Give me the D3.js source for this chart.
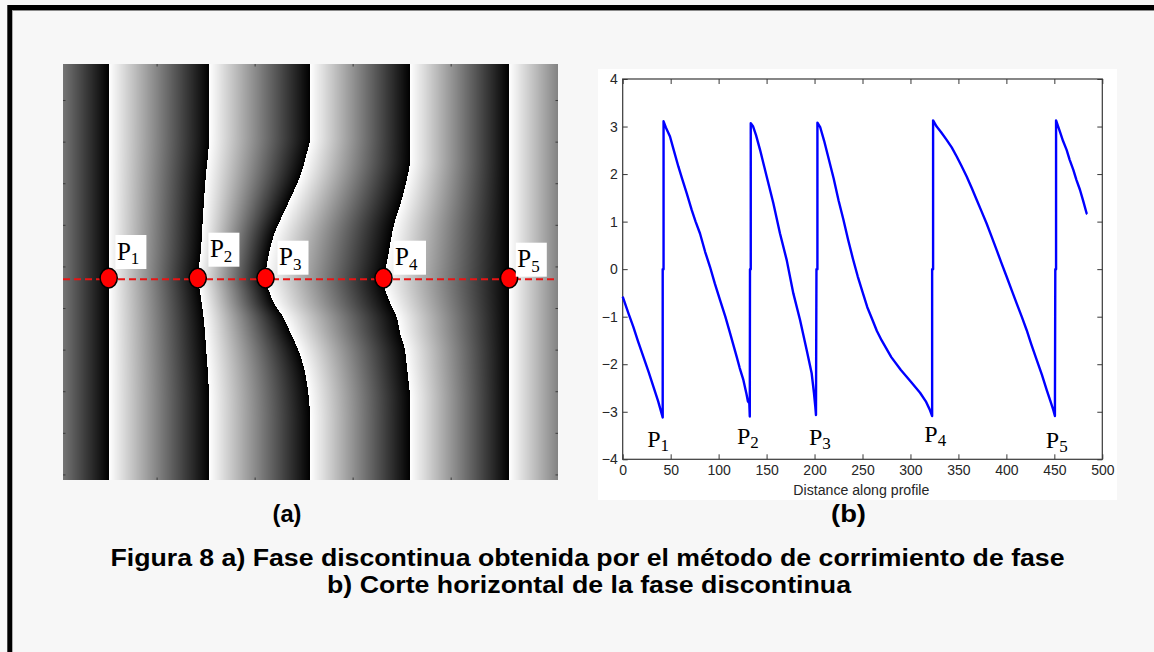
<!DOCTYPE html>
<html>
<head>
<meta charset="utf-8">
<script src="https://cdn.jsdelivr.net/npm/d3@7"></script>
<style>
  html, body { margin: 0; padding: 0; background: #f7f7f7; }
  svg { display: block; }
</style>
</head>
<body>
<svg id="fig" width="1154" height="652"></svg>
<script>
// ---------------------------------------------------------------
// Horizontal cut through the wrapped phase: [distance, phase (rad)]
// ---------------------------------------------------------------
const fringe0 = [[0,-0.58],[6,-0.93],[11,-1.21],[16,-1.52],[21.5,-1.84],[27,-2.16],[32,-2.47],[37,-2.78],[41.7,-3.12]];
const fringe1 = [[41.7,0],[42.6,0],[42.6,3.11],[45,2.98],[49.3,2.79],[53,2.52],[58,2.16],[62,1.9],[66.7,1.6],[72,1.24],[76,1.0],[80.6,0.75],[86,0.36],[91,0.05],[96,-0.3],[101.5,-0.65],[107,-1.0],[112,-1.35],[118.8,-1.84],[122,-2.08],[125.8,-2.33],[129,-2.62],[130.5,-2.78],[132,-2.82],[132.5,-3.1]];
const fringe2 = [[132.7,0],[133.5,0],[133.5,3.07],[136,3.0],[139,2.82],[143.2,2.51],[150.1,1.95],[157,1.39],[164,0.75],[171,0.19],[177.9,-0.51],[184.9,-1.07],[191.8,-1.7],[197,-2.19],[199.4,-2.61],[200.8,-2.89],[201.5,-3.07]];
const fringe3 = [[202,0],[203,0],[203,3.08],[206,2.98],[210,2.7],[215,2.3],[220,1.9],[225,1.45],[230,1.05],[235,0.62],[240,0.22],[245,-0.15],[250,-0.48],[255,-0.8],[260,-1.05],[265,-1.3],[270,-1.5],[280,-1.85],[290,-2.12],[300,-2.36],[310,-2.6],[316,-2.78],[320,-2.95],[322.6,-3.09]];
const fringe4 = [[322.6,0],[323.6,0],[323.6,3.13],[327.3,3.0],[332,2.88],[337.7,2.72],[343,2.56],[348.2,2.37],[353,2.18],[358.6,1.95],[364,1.7],[369,1.46],[374,1.22],[379.4,0.96],[384.5,0.69],[389.9,0.4],[395,0.12],[400.3,-0.16],[405.5,-0.44],[410.7,-0.72],[416,-1.0],[421.1,-1.28],[426,-1.58],[431.6,-1.91],[437,-2.22],[442,-2.54],[446,-2.78],[448.9,-2.96],[450.6,-3.09]];
const fringe5 = [[451,0],[451.8,0],[451.8,3.13],[455.9,2.89],[459,2.7],[462.8,2.51],[466,2.3],[469.8,2.09],[473,1.88],[476.7,1.67],[480,1.44],[483.7,1.17],[484.4,1.16]];

// Phase jumps (-pi -> +pi) along the cut, and their names P1..P5
const jumps = [41.7, 132.7, 202, 322.6, 451];
const jumpIndex = ["1", "2", "3", "4", "5"];

// Axis ticks of the profile plot
const xTicks = [0, 50, 100, 150, 200, 250, 300, 350, 400, 450, 500];
const yTicks = [-4, -3, -2, -1, 0, 1, 2, 3, 4];

// Wrapped-phase map: each discontinuity line as [row, column],
// columns share the distance units of the cut.
const edge1 = [[0,42],[416,42]];
const edge2 = [[0,144.5],[70,144.4],[119,140.4],[153,138],[186,136],[215.3,133],[229,135.2],[253,138.6],[286,141.4],[319,143.7],[340,144.5],[416,144.5]];
const edge3 = [[0,247.7],[72,247.7],[92,243.5],[112,237.5],[130,229.5],[150,220],[170,211],[190,205.5],[215.3,202],[228,206],[240,211],[253,220],[269,227.5],[286,235.5],[303,241],[320,244.5],[340,246.8],[358,247.7],[416,247.7]];
const edge4 = [[0,349.9],[95,349.9],[115,346.5],[138,340.5],[160,333.5],[180,329.5],[200,325.8],[215.3,322.6],[239,329.4],[253,336],[269,339.6],[286,344.5],[303,346.5],[320,348.5],[336,349.9],[416,349.9]];
const edge5 = [[0,451],[416,451]];
const cutRow = 215.3;

// Image axis ticks (pixel coordinates of the phase map)
const imgColTicks = [100, 200, 300, 400];
const imgRowTicks = [50, 100, 150, 200, 250, 300, 350, 400, 450, 500];

// Caption texts
const panelNames = ["(a)", "(b)"];
const captionLines = [
  "Figura 8 a) Fase discontinua obtenida por el método de corrimiento de fase",
  "b) Corte horizontal de la fase discontinua"
];
const xLabel = "Distance along profile";

// ---------------------------------------------------------------
const W = 1154, H = 652;
const svg = d3.select("#fig");

svg.append("rect").attr("width", W).attr("height", H).attr("fill", "#f7f7f7");

// Slide frame (only top and left edges are inside the page)
svg.append("path")
  .attr("d", `M9.8,${H + 10} V7.5 H${W + 10}`)
  .attr("fill", "none").attr("stroke", "#000").attr("stroke-width", 5);
svg.append("line")
  .attr("x1", 12.3).attr("x2", W).attr("y1", 10.5).attr("y2", 10.5)
  .attr("stroke", "#8a8a8a").attr("stroke-width", 1);

// ======================= Panel (a): phase map =======================
const imgLeft = 63, imgTop = 64, imgW = 495, imgH = 416;
const imgX = d3.scaleLinear().domain([-5, 501]).range([imgLeft, imgLeft + imgW]);
const imgY = d3.scaleLinear().domain([0, 416]).range([imgTop, imgTop + imgH]);

// Screen x of each discontinuity line, row by row
const tmp = svg.append("g").attr("opacity", 0);
const edgeLine = d3.line().x(d => imgX(d[1])).y(d => imgY(d[0])).curve(d3.curveMonotoneY);
const edgeRows = [edge1, edge2, edge3, edge4, edge5].map(pts => {
  const node = tmp.append("path").attr("d", edgeLine(pts)).node();
  const L = node.getTotalLength();
  const sum = new Float64Array(imgH), cnt = new Float64Array(imgH);
  for (let s = 0; s <= L; s += 0.2) {
    const p = node.getPointAtLength(s);
    const r = Math.floor(p.y - imgTop);
    if (r >= 0 && r < imgH) { sum[r] += p.x; cnt[r]++; }
  }
  const out = new Float64Array(imgH);
  let last = imgX(pts[0][1]);
  for (let r = 0; r < imgH; r++) {
    if (cnt[r]) { out[r] = sum[r] / cnt[r]; last = out[r]; } else out[r] = last;
  }
  return out;
});
tmp.remove();

// Fringe spacing away from the deformation, used beyond the outer edges
const spacing = (edgeRows[4][0] - edgeRows[0][0]) / 4;

const canvas = document.createElement("canvas");
canvas.width = imgW; canvas.height = imgH;
const ctx = canvas.getContext("2d");
const pix = ctx.createImageData(imgW, imgH);
for (let r = 0; r < imgH; r++) {
  const b = edgeRows.map(e => e[r]);
  const B = [b[0] - spacing, ...b, b[4] + spacing];
  let k = 0;
  for (let i = 0; i < imgW; i++) {
    const x = imgLeft + i + 0.5;
    while (k < B.length - 2 && x >= B[k + 1]) k++;
    let g = (x - B[k]) / (B[k + 1] - B[k]);
    g = Math.max(0, Math.min(1, g));
    const v = Math.round(255 * (1 - g));
    const o = (r * imgW + i) * 4;
    pix.data[o] = v; pix.data[o + 1] = v; pix.data[o + 2] = v; pix.data[o + 3] = 255;
  }
}
ctx.putImageData(pix, 0, 0);

svg.append("image")
  .attr("x", imgLeft).attr("y", imgTop)
  .attr("width", imgW).attr("height", imgH)
  .attr("preserveAspectRatio", "none")
  .attr("href", canvas.toDataURL());

// Small inward ticks around the map
const pxX = d3.scaleLinear().domain([4.5, 509.5]).range([imgLeft, imgLeft + imgW]);
const pxY = d3.scaleLinear().domain([6.7, 506.7]).range([imgTop, imgTop + imgH]);
const tickStyle = g => {
  g.select(".domain").remove();
  g.selectAll(".tick line").attr("stroke", "#3c3c3c").attr("stroke-width", 1);
  g.selectAll(".tick text").remove();
};
svg.append("g").attr("transform", `translate(0,${imgTop})`)
  .call(d3.axisTop(pxX).tickValues(imgColTicks).tickSize(-2.5)).call(tickStyle);
svg.append("g").attr("transform", `translate(0,${imgTop + imgH})`)
  .call(d3.axisBottom(pxX).tickValues(imgColTicks).tickSize(-2.5)).call(tickStyle);
svg.append("g").attr("transform", `translate(${imgLeft},0)`)
  .call(d3.axisLeft(pxY).tickValues(imgRowTicks).tickSize(-2.5)).call(tickStyle);
svg.append("g").attr("transform", `translate(${imgLeft + imgW},0)`)
  .call(d3.axisRight(pxY).tickValues(imgRowTicks).tickSize(-2.5)).call(tickStyle);

// Horizontal cut
const cutY = imgY(cutRow);
svg.append("line")
  .attr("x1", imgLeft).attr("x2", imgLeft + imgW)
  .attr("y1", cutY).attr("y2", cutY)
  .attr("stroke", "#e81414").attr("stroke-width", 2)
  .attr("stroke-dasharray", "7,4");

// Points where the cut crosses each discontinuity
svg.append("g").selectAll("ellipse").data(jumps).join("ellipse")
  .attr("cx", d => imgX(d)).attr("cy", cutY - 1.2)
  .attr("rx", 8.6).attr("ry", 9.8)
  .attr("fill", "#ff0000").attr("stroke", "#000").attr("stroke-width", 1.5);

// Labels in white boxes next to the points
const boxNudge = [[6.7, -44.3], [10.7, -46.6], [12, -38.6], [10, -38.6], [6.7, -36.6]];
const serif = "'Liberation Serif', 'Times New Roman', serif";
const imgLabels = svg.append("g").selectAll("g").data(jumps).join("g")
  .attr("transform", (d, i) => `translate(${imgX(d) + boxNudge[i][0]},${cutY + boxNudge[i][1]})`);
imgLabels.append("rect")
  .attr("width", (d, i) => i === 3 ? 32.5 : 31).attr("height", 34).attr("fill", "#fff");
const imgText = imgLabels.append("text")
  .attr("x", 1.5).attr("y", 24.5)
  .attr("font-family", serif).attr("font-size", 25).attr("fill", "#000");
imgText.append("tspan").text("P");
imgText.append("tspan").attr("font-size", 17).attr("dy", 4.5).text((d, i) => jumpIndex[i]);

// ======================= Panel (b): profile plot =======================
svg.append("rect").attr("x", 598).attr("y", 69).attr("width", 519).attr("height", 431).attr("fill", "#fff");

const x = d3.scaleLinear().domain([0, 500]).range([622.7, 1102.3]);
const y = d3.scaleLinear().domain([-4, 4]).range([459.3, 79]);
const sans = "'Liberation Sans', Arial, sans-serif";
const axisColor = "#383838";

const axisStyle = (g, keepText) => {
  g.select(".domain").remove();
  g.selectAll(".tick line").attr("stroke", axisColor).attr("stroke-width", 1);
  if (!keepText) g.selectAll(".tick text").remove();
  else g.selectAll(".tick text").attr("fill", "#262626")
        .attr("font-family", sans).attr("font-size", 14);
};

svg.append("g").attr("transform", `translate(0,${y(-4)})`)
  .call(d3.axisBottom(x).tickValues(xTicks).tickSize(-5).tickPadding(6).tickFormat(d3.format("d")))
  .call(g => axisStyle(g, true));
svg.append("g").attr("transform", `translate(0,${y(4)})`)
  .call(d3.axisTop(x).tickValues(xTicks).tickSize(-5))
  .call(g => axisStyle(g, false));
svg.append("g").attr("transform", `translate(${x(0)},0)`)
  .call(d3.axisLeft(y).tickValues(yTicks).tickSize(-5).tickPadding(5).tickFormat(d3.format("d")))
  .call(g => axisStyle(g, true));
svg.append("g").attr("transform", `translate(${x(500)},0)`)
  .call(d3.axisRight(y).tickValues(yTicks).tickSize(-5))
  .call(g => axisStyle(g, false));

svg.append("rect")
  .attr("x", x(0)).attr("y", y(4))
  .attr("width", x(500) - x(0)).attr("height", y(-4) - y(4))
  .attr("fill", "none").attr("stroke", axisColor).attr("stroke-width", 1.2);

// Phase profile
const profile = [].concat(fringe0, fringe1, fringe2, fringe3, fringe4, fringe5);
svg.append("path")
  .datum(profile)
  .attr("d", d3.line().x(d => x(d[0])).y(d => y(d[1])))
  .attr("fill", "none").attr("stroke", "#0000ff")
  .attr("stroke-width", 2.4).attr("stroke-linejoin", "round");

// Jump labels under the profile
const plotNudge = [[-15.5, -12.6], [-13, -15], [-7.5, -14.3], [-7.8, -17.6], [-9.5, -11]];
const plotText = svg.append("g").selectAll("text").data(jumps).join("text")
  .attr("x", (d, i) => x(d) + plotNudge[i][0])
  .attr("y", (d, i) => y(-4) + plotNudge[i][1])
  .attr("font-family", serif).attr("font-size", 24).attr("fill", "#000");
plotText.append("tspan").text("P");
plotText.append("tspan").attr("font-size", 17).attr("dy", 4).text((d, i) => jumpIndex[i]);

svg.append("text")
  .attr("x", 861.3).attr("y", 495)
  .attr("text-anchor", "middle")
  .attr("font-family", sans).attr("font-size", 14).attr("fill", "#262626")
  .attr("textLength", 136).attr("lengthAdjust", "spacingAndGlyphs")
  .text(xLabel);

// ======================= Captions =======================
svg.append("g").selectAll("text").data(panelNames).join("text")
  .attr("x", (d, i) => [287, 848.5][i]).attr("y", 522)
  .attr("text-anchor", "middle")
  .attr("font-family", sans).attr("font-weight", "bold").attr("font-size", 23).attr("fill", "#000")
  .attr("textLength", (d, i) => [29, 35][i]).attr("lengthAdjust", "spacingAndGlyphs")
  .text(d => d);

svg.append("g").selectAll("text").data(captionLines).join("text")
  .attr("x", (d, i) => [587.5, 589][i]).attr("y", (d, i) => [565.5, 593][i])
  .attr("text-anchor", "middle")
  .attr("font-family", sans).attr("font-weight", "bold").attr("font-size", 23.5).attr("fill", "#000")
  .attr("textLength", (d, i) => [954, 524][i]).attr("lengthAdjust", "spacingAndGlyphs")
  .text(d => d);
</script>
</body>
</html>
